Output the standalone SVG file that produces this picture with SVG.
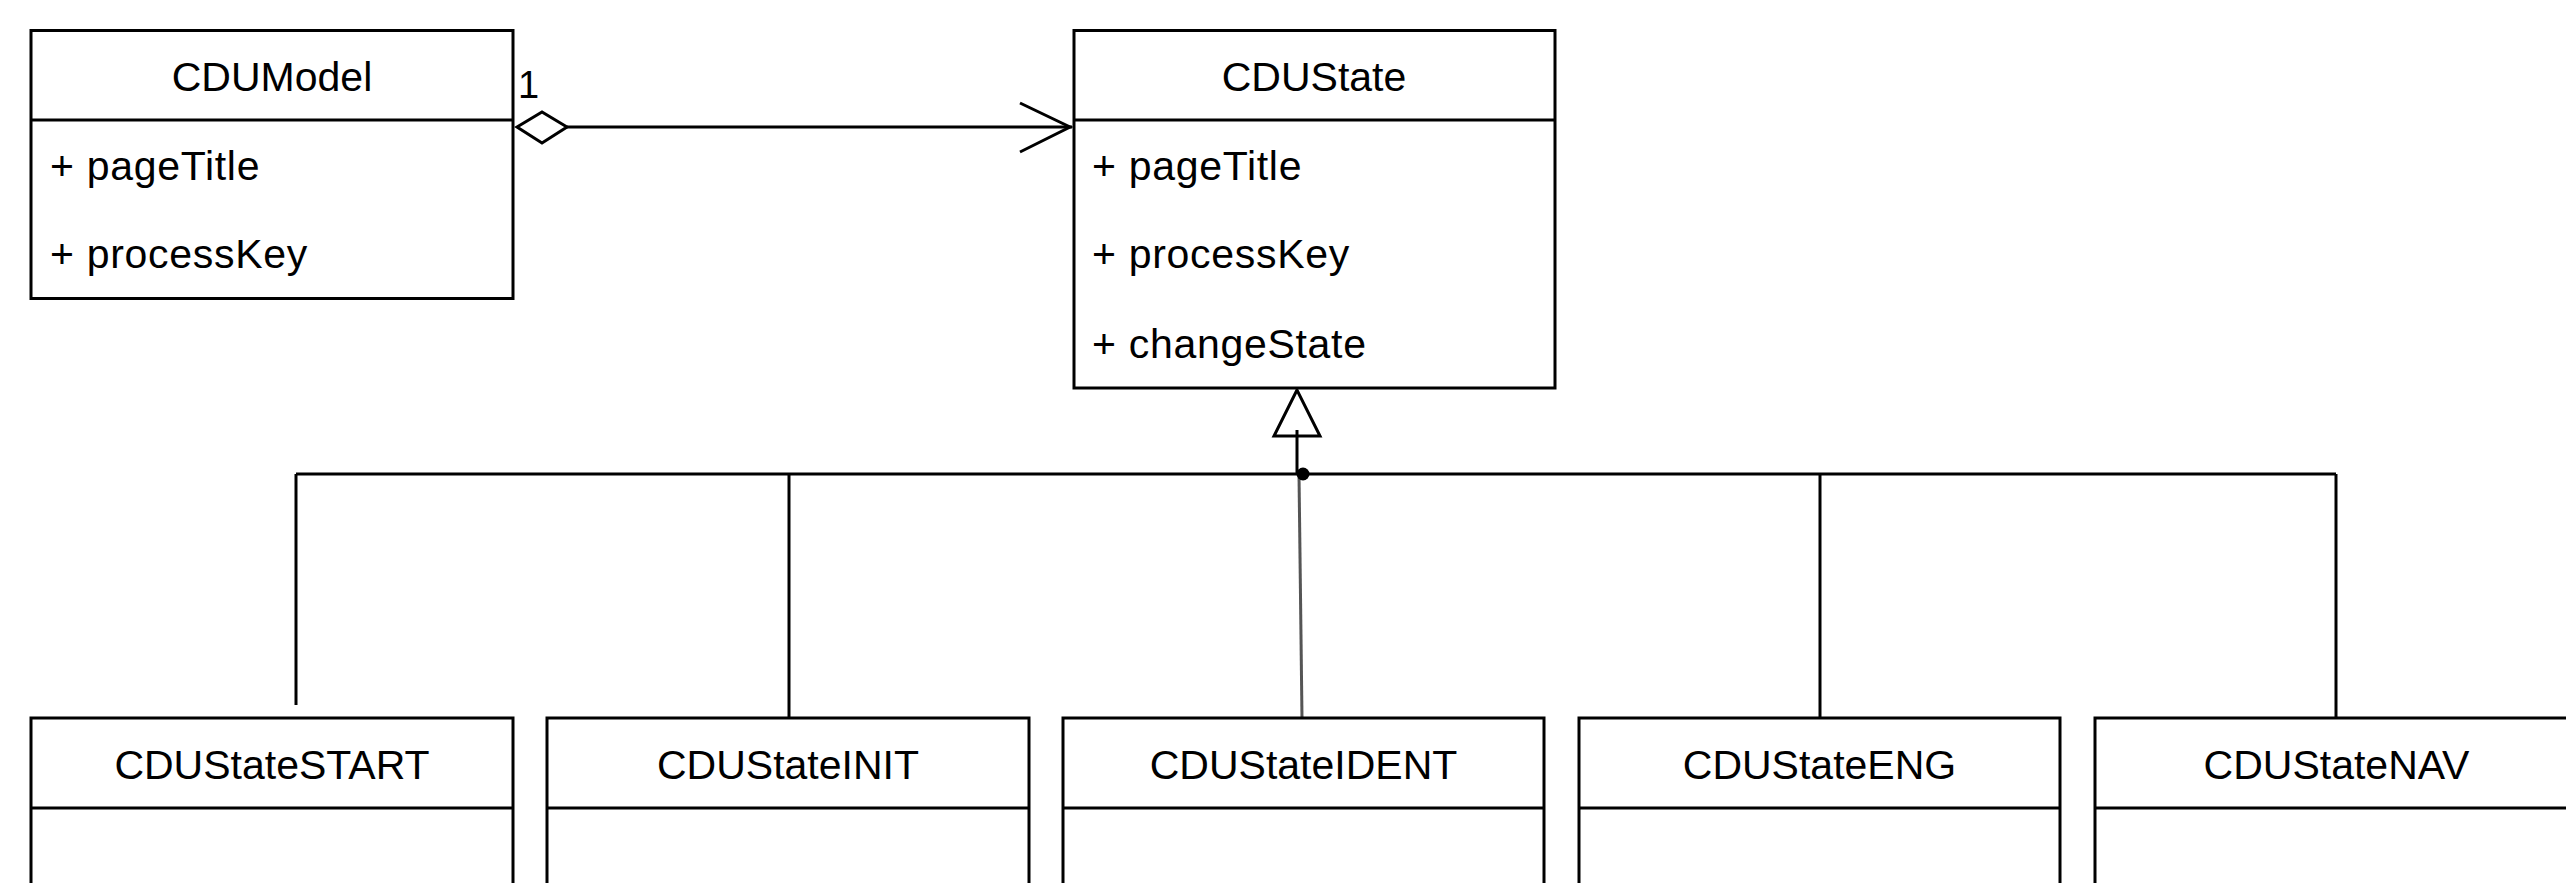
<svg xmlns="http://www.w3.org/2000/svg" width="2566" height="883" viewBox="0 0 2566 883">
<style>
.box{fill:#fff;stroke:#000;stroke-width:3}
.div{stroke:#000;stroke-width:3}
.t{font-family:"Liberation Sans",Arial,sans-serif;font-size:41px;fill:#000}
.c{text-anchor:middle}
.a{letter-spacing:0.7px}
.ln{fill:none;stroke:#000;stroke-width:3}
</style>
<rect width="2566" height="883" fill="#fff"/>
<g id="connectors">
  <line class="ln" x1="567" y1="127" x2="1072" y2="127"/>
  <polygon points="517,127 542,112 567,127 542,143" fill="#fff" stroke="#000" stroke-width="3"/>
  <polyline class="ln" points="1020,103 1070,127 1020,152"/>
  <text class="t" x="518" y="98" style="font-size:38px">1</text>
  <polygon points="1297,390 1274,436 1320,436" fill="#fff" stroke="#000" stroke-width="3"/>
  <line class="ln" x1="1297" y1="430" x2="1297" y2="474"/>
  <line class="ln" x1="296" y1="474" x2="2336" y2="474"/>
  <line class="ln" x1="296" y1="474" x2="296" y2="705"/>
  <line class="ln" x1="789" y1="474" x2="789" y2="718"/>
  <line x1="1299" y1="474" x2="1302" y2="718" stroke="#555" stroke-width="3"/>
  <line class="ln" x1="1820" y1="474" x2="1820" y2="718"/>
  <line class="ln" x1="2336" y1="474" x2="2336" y2="718"/>
  <circle cx="1303" cy="474" r="6.5" fill="#000"/>
</g>
<g id="CDUModel">
  <rect class="box" x="31" y="30.5" width="482" height="268"/>
  <line class="div" x1="31" y1="120" x2="513" y2="120"/>
  <text class="t c" x="272" y="91">CDUModel</text>
  <text class="t a" x="50" y="180">+ pageTitle</text>
  <text class="t a" x="50" y="268">+ processKey</text>
</g>
<g id="CDUState">
  <rect class="box" x="1074" y="30.5" width="481" height="357.5"/>
  <line class="div" x1="1074" y1="120" x2="1555" y2="120"/>
  <text class="t c" x="1314" y="91">CDUState</text>
  <text class="t a" x="1092" y="180">+ pageTitle</text>
  <text class="t a" x="1092" y="268">+ processKey</text>
  <text class="t a" x="1092" y="358">+ changeState</text>
</g>
<g id="CDUStateSTART">
  <rect class="box" x="31" y="718" width="482" height="200"/>
  <line class="div" x1="31" y1="808" x2="513" y2="808"/>
  <text class="t c" x="272" y="779">CDUStateSTART</text>
</g>
<g id="CDUStateINIT">
  <rect class="box" x="547" y="718" width="482" height="200"/>
  <line class="div" x1="547" y1="808" x2="1029" y2="808"/>
  <text class="t c" x="788" y="779">CDUStateINIT</text>
</g>
<g id="CDUStateIDENT">
  <rect class="box" x="1063" y="718" width="481" height="200"/>
  <line class="div" x1="1063" y1="808" x2="1544" y2="808"/>
  <text class="t c" x="1303.5" y="779">CDUStateIDENT</text>
</g>
<g id="CDUStateENG">
  <rect class="box" x="1579" y="718" width="481" height="200"/>
  <line class="div" x1="1579" y1="808" x2="2060" y2="808"/>
  <text class="t c" x="1819.5" y="779">CDUStateENG</text>
</g>
<g id="CDUStateNAV">
  <rect class="box" x="2095" y="718" width="483" height="200"/>
  <line class="div" x1="2095" y1="808" x2="2578" y2="808"/>
  <text class="t c" x="2336.5" y="779">CDUStateNAV</text>
</g>
</svg>
